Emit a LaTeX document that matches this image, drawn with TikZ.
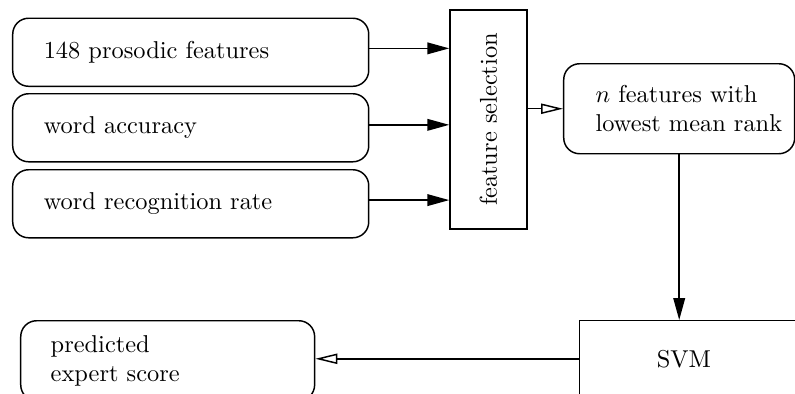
\documentclass[tikz,border=0pt]{standalone}
\usetikzlibrary{arrows.meta}
\begin{document}
\begin{tikzpicture}[x=0.41pt,y=-0.41pt,
  line width=0.6pt,
  rbox/.style={draw,rounded corners=6.5pt,align=left,anchor=north west},
  sbox/.style={draw,align=left,anchor=north west},
  farr/.style={-{Triangle[length=9pt,width=4.8pt]}},
  oarr/.style={-{Triangle[open,length=9pt,width=4.2pt]}}]
\clip (0,0) rectangle (795,394);
\node[rbox,minimum width=145.96pt,minimum height=27.9pt,inner xsep=12.71pt,text width=120.5pt] (b1) at (12,17.5) {148 prosodic features};
\node[rbox,minimum width=145.96pt,minimum height=27.9pt,inner xsep=12.71pt,text width=120.5pt] (b2) at (12,93) {word accuracy};
\node[rbox,minimum width=145.96pt,minimum height=27.9pt,inner xsep=12.71pt,text width=120.5pt] (b3) at (12,169) {word recognition rate};
\node[draw,rotate=90,minimum width=89.8pt,minimum height=31.6pt] (fs) at (488.5,119.5) {feature selection};
\node[rbox,minimum width=94.7pt,minimum height=36.9pt,inner xsep=13.1pt,text width=68.5pt] (n) at (563,63) {\mbox{$n$ features with}\\\mbox{lowest mean rank}};
\node[sbox,minimum width=106.6pt,minimum height=31.2pt,inner xsep=31.6pt,text width=43.4pt] (svm) at (579,320) {SVM};
\node[rbox,minimum width=120.5pt,minimum height=32.8pt,inner xsep=12.3pt,text width=95.9pt] (pred) at (20,320) {predicted\\expert score};
\draw[farr] ([yshift=1.6pt]b1.east) -- ([yshift=1.6pt]b1.east -| fs.north);
\draw[farr] ([yshift=1.2pt]b2.east) -- ([yshift=1.2pt]b2.east -| fs.north);
\draw[farr] ([yshift=1.5pt]b3.east) -- ([yshift=1.5pt]b3.east -| fs.north);
\draw[oarr] (n.west -| fs.south) -- (n.west);
\draw[farr] (n.south) -- (n.south |- svm.north);
\draw[oarr] (svm.west) -- (svm.west -| pred.east);
\end{tikzpicture}
\end{document}
